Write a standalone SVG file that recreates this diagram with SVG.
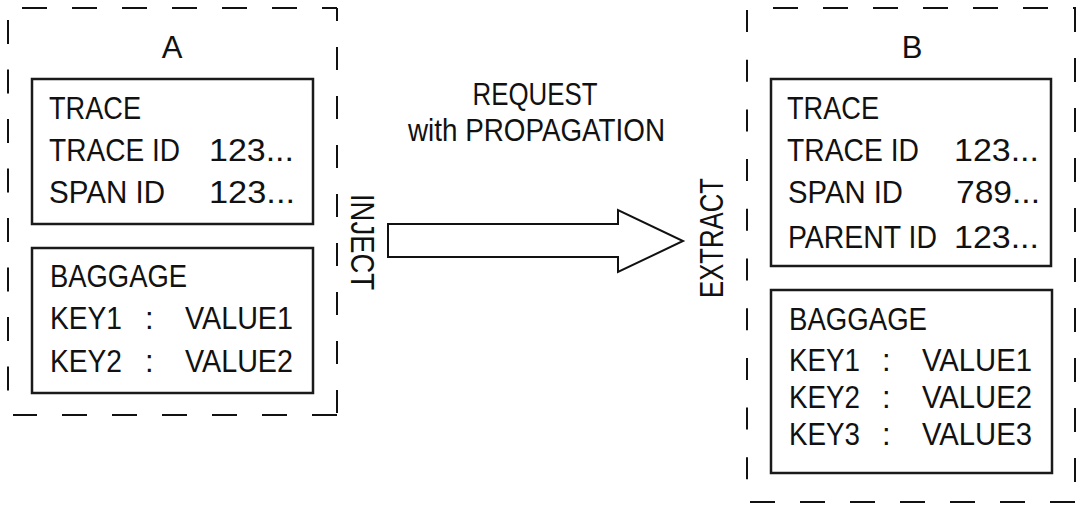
<svg xmlns="http://www.w3.org/2000/svg" width="1087" height="515" viewBox="0 0 1087 515">
<style>
  .bg { fill: #ffffff; }
  .dash { stroke: #111; stroke-width: 2; fill: none; }
  .box { stroke: #1a1a1a; stroke-width: 2.5; fill: #ffffff; }
  .t { font-family: "Liberation Sans", Arial, sans-serif; font-size: 31px; fill: #111; }
  .v { font-size: 33px; }
  .mid { text-anchor: middle; }
  .arrow { stroke: #111; stroke-width: 2; fill: #ffffff; stroke-linejoin: miter; }
</style>
<rect class="bg" x="0" y="0" width="1087" height="515"/>

<g id="serviceA">
  <line class="dash" x1="22" y1="8" x2="337" y2="8" stroke-dasharray="25 25"/>
  <line class="dash" x1="337" y1="8" x2="337" y2="415" stroke-dasharray="23 26" stroke-dashoffset="10"/>
  <line class="dash" x1="337" y1="415" x2="13" y2="415" stroke-dasharray="25 25"/>
  <line class="dash" x1="8" y1="20" x2="8" y2="393" stroke-dasharray="24 25.5"/>
  <text class="t mid" x="172" y="58">A</text>
</g>

<g id="traceA">
  <rect class="box" x="32" y="79" width="281" height="145"/>
  <text class="t" x="49" y="119" textLength="92" lengthAdjust="spacingAndGlyphs">TRACE</text>
  <text class="t" x="49" y="161" textLength="131" lengthAdjust="spacingAndGlyphs">TRACE ID</text>
  <text class="t" x="209" y="161" textLength="85" lengthAdjust="spacingAndGlyphs">123...</text>
  <text class="t" x="49" y="203" textLength="116" lengthAdjust="spacingAndGlyphs">SPAN ID</text>
  <text class="t" x="209" y="203" textLength="86" lengthAdjust="spacingAndGlyphs">123...</text>
</g>

<g id="baggageA">
  <rect class="box" x="32" y="248" width="281" height="145"/>
  <text class="t" x="50" y="287" textLength="137" lengthAdjust="spacingAndGlyphs">BAGGAGE</text>
  <text class="t" x="50" y="329" textLength="72" lengthAdjust="spacingAndGlyphs">KEY1</text>
  <text class="t" x="145" y="329">:</text>
  <text class="t" x="185" y="329" textLength="108" lengthAdjust="spacingAndGlyphs">VALUE1</text>
  <text class="t" x="50" y="372" textLength="72" lengthAdjust="spacingAndGlyphs">KEY2</text>
  <text class="t" x="145" y="372">:</text>
  <text class="t" x="185" y="372" textLength="108" lengthAdjust="spacingAndGlyphs">VALUE2</text>
</g>

<g id="serviceB">
  <line class="dash" x1="773" y1="8" x2="1076" y2="8" stroke-dasharray="25 25"/>
  <line class="dash" x1="1075" y1="8" x2="1075" y2="482" stroke-dasharray="24 26"/>
  <line class="dash" x1="1075" y1="502" x2="750" y2="502" stroke-dasharray="25 25"/>
  <line class="dash" x1="747" y1="10" x2="747" y2="480" stroke-dasharray="22 27.7"/>
  <text class="t mid" x="912" y="58">B</text>
</g>

<g id="traceB">
  <rect class="box" x="771" y="79" width="280" height="187"/>
  <text class="t" x="787" y="119" textLength="92" lengthAdjust="spacingAndGlyphs">TRACE</text>
  <text class="t" x="787" y="161" textLength="132" lengthAdjust="spacingAndGlyphs">TRACE ID</text>
  <text class="t" x="954" y="161" textLength="85" lengthAdjust="spacingAndGlyphs">123...</text>
  <text class="t" x="788" y="203" textLength="115" lengthAdjust="spacingAndGlyphs">SPAN ID</text>
  <text class="t" x="956" y="203" textLength="84" lengthAdjust="spacingAndGlyphs">789...</text>
  <text class="t" x="788" y="248" textLength="149" lengthAdjust="spacingAndGlyphs">PARENT ID</text>
  <text class="t" x="954" y="248" textLength="85" lengthAdjust="spacingAndGlyphs">123...</text>
</g>

<g id="baggageB">
  <rect class="box" x="771" y="290" width="281" height="183"/>
  <text class="t" x="789" y="330" textLength="138" lengthAdjust="spacingAndGlyphs">BAGGAGE</text>
  <text class="t" x="789" y="371" textLength="71" lengthAdjust="spacingAndGlyphs">KEY1</text>
  <text class="t" x="882" y="371">:</text>
  <text class="t" x="922" y="371" textLength="110" lengthAdjust="spacingAndGlyphs">VALUE1</text>
  <text class="t" x="789" y="408" textLength="71" lengthAdjust="spacingAndGlyphs">KEY2</text>
  <text class="t" x="882" y="408">:</text>
  <text class="t" x="922" y="408" textLength="110" lengthAdjust="spacingAndGlyphs">VALUE2</text>
  <text class="t" x="789" y="445" textLength="71" lengthAdjust="spacingAndGlyphs">KEY3</text>
  <text class="t" x="882" y="445">:</text>
  <text class="t" x="922" y="445" textLength="110" lengthAdjust="spacingAndGlyphs">VALUE3</text>
</g>

<g id="connectors">
  <polygon class="arrow" points="388,224 618,224 618,210 683,241 618,272 618,257 388,257"/>
  <text class="t mid" x="535" y="105" textLength="125" lengthAdjust="spacingAndGlyphs">REQUEST</text>
  <text class="t" x="408" y="141" textLength="257" lengthAdjust="spacingAndGlyphs">with PROPAGATION</text>
  <text class="t v" transform="translate(351,194) rotate(90)" x="0" y="0" textLength="96" lengthAdjust="spacingAndGlyphs">INJECT</text>
  <text class="t v" transform="translate(723,298) rotate(-90)" x="0" y="0" textLength="120" lengthAdjust="spacingAndGlyphs">EXTRACT</text>
</g>
</svg>
